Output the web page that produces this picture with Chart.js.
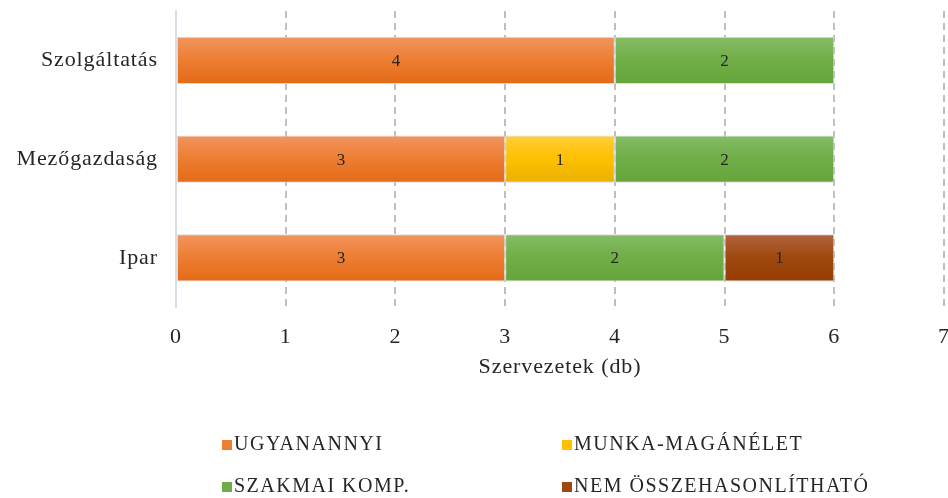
<!DOCTYPE html>
<html lang="hu">
<head>
<meta charset="utf-8">
<script src="https://cdn.jsdelivr.net/npm/chart.js@4.4.1/dist/chart.umd.min.js"></script>
<style>
  html, body { margin: 0; padding: 0; background: #ffffff; }
  #wrap { position: relative; width: 948px; height: 498px; }
  #chartBox { position: absolute; left: 0; top: 0; width: 948px; height: 380px; }
  #legend { position: absolute; left: 0; top: 0; width: 948px; height: 498px; pointer-events: none;
            font-family: "Liberation Serif", "Times New Roman", serif; font-size: 20px;
            letter-spacing: 1.5px; color: #262626; }
  .item { position: absolute; display: flex; align-items: center; white-space: nowrap; }
  .box { width: 10px; height: 10px; margin-right: 2px; margin-top: 3px; }
</style>
</head>
<body>
<div id="wrap">
  <div id="chartBox"><canvas id="c"></canvas></div>
  <div id="legend"></div>
</div>
<script>
// Sectors (top to bottom) and counts of organisations per answer
const categories = ["Szolgáltatás", "Mezőgazdaság", "Ipar"];
const seriesNames = ["UGYANANNYI", "MUNKA-MAGÁNÉLET", "SZAKMAI KOMP.", "NEM ÖSSZEHASONLÍTHATÓ"];
const ugyanannyi = [4, 3, 3];
const munkaMaganelet = [0, 1, 0];
const szakmaiKomp = [2, 2, 2];
const nemOsszehasonlithato = [0, 0, 1];
const xTicks = [0, 1, 2, 3, 4, 5, 6, 7];
const axisTitle = "Szervezetek (db)";

// Fill colours: light top, dark bottom of each bar
const palette = [
  { top: "#F2955F", bottom: "#E36A17", flat: "#ED7D31" },
  { top: "#FFCD3A", bottom: "#EBB000", flat: "#FFC000" },
  { top: "#86BD66", bottom: "#65A53A", flat: "#70AD47" },
  { top: "#B2643E", bottom: "#983C02", flat: "#9E480E" }
];

const SERIF = '"Liberation Serif", "Times New Roman", serif';
const AXIS_SPACING = "0.9px";

function barGradient(idx) {
  return function (context) {
    const chart = context.chart;
    const yScale = chart.scales && chart.scales.y;
    if (!chart.chartArea || !yScale || context.dataIndex === undefined) return palette[idx].flat;
    const cy = yScale.getPixelForValue(context.dataIndex);
    const half = (yScale.height / categories.length) * 0.48 / 2;
    const g = chart.ctx.createLinearGradient(0, cy - half, 0, cy + half);
    g.addColorStop(0, palette[idx].top);
    g.addColorStop(0.5, palette[idx].flat);
    g.addColorStop(1, palette[idx].bottom);
    return g;
  };
}

const seriesData = [ugyanannyi, munkaMaganelet, szakmaiKomp, nemOsszehasonlithato];
const datasets = seriesNames.map((name, i) => ({
  label: name,
  data: seriesData[i].map(v => (v === 0 ? null : v)),
  backgroundColor: barGradient(i),
  borderColor: "rgba(215,215,215,0.9)",
  borderWidth: 1,
  borderSkipped: false,
  categoryPercentage: 1,
  barPercentage: 0.48
}));

// Slightly wider letter spacing for the axis texts
const axisSpacing = {
  id: "axisSpacing",
  beforeLayout(chart) { chart.ctx.letterSpacing = AXIS_SPACING; },
  beforeDraw(chart) { chart.ctx.letterSpacing = AXIS_SPACING; },
  afterDraw(chart) { chart.ctx.letterSpacing = "0px"; }
};

// Value written in the middle of every segment
const segmentLabels = {
  id: "segmentLabels",
  afterDatasetsDraw(chart) {
    const ctx = chart.ctx;
    ctx.save();
    ctx.letterSpacing = "0px";
    ctx.font = "17px " + SERIF;
    ctx.fillStyle = "#262626";
    ctx.textAlign = "center";
    ctx.textBaseline = "middle";
    chart.data.datasets.forEach((ds, di) => {
      const meta = chart.getDatasetMeta(di);
      meta.data.forEach((bar, j) => {
        const v = ds.data[j];
        if (v === null || v === undefined) return;
        const p = bar.getProps(["x", "y", "base"], true);
        ctx.fillText(String(v), (p.x + p.base) / 2, p.y + 1);
      });
    });
    ctx.restore();
  }
};

new Chart(document.getElementById("c"), {
  type: "bar",
  data: { labels: categories, datasets },
  options: {
    indexAxis: "y",
    responsive: true,
    maintainAspectRatio: false,
    animation: false,
    layout: { padding: { left: 0, right: 4, top: 11, bottom: 0 } },
    plugins: { legend: { display: false }, tooltip: { enabled: false } },
    scales: {
      x: {
        stacked: true,
        min: 0, max: 7,
        afterBuildTicks(scale) { scale.ticks = xTicks.map(v => ({ value: v })); },
        afterFit(scale) { scale.paddingLeft = 0; scale.paddingRight = 0; },
        grid: {
          display: true,
          drawTicks: false,
          color: ctx => (ctx.tick && ctx.tick.value === 0 ? "rgba(0,0,0,0)" : "#BFBFBF"),
          lineWidth: 2
        },
        border: { display: false, dash: [7, 5] },
        ticks: { color: "#262626", font: { family: SERIF, size: 22 }, padding: 17 },
        title: { display: true, text: axisTitle, color: "#262626", font: { family: SERIF, size: 22 }, padding: { top: -14, bottom: 0 } }
      },
      y: {
        stacked: true,
        grid: { display: false, drawTicks: false },
        border: { display: true, color: "#D9DDE6", width: 2 },
        ticks: { color: "#262626", font: { family: SERIF, size: 22 }, padding: 18 },
        afterFit(scale) { scale.width = 176; scale.paddingTop = 0; scale.paddingBottom = 0; }
      }
    }
  },
  plugins: [axisSpacing, segmentLabels]
});

// Legend: two columns, two rows
const legendPos = [
  { x: 222, y: 443 }, { x: 562, y: 443 },
  { x: 222, y: 485 }, { x: 562, y: 485 }
];
const legendEl = document.getElementById("legend");
seriesNames.forEach((name, i) => {
  const item = document.createElement("div");
  item.className = "item";
  item.style.left = legendPos[i].x + "px";
  item.style.top = (legendPos[i].y - 12) + "px";
  item.style.height = "24px";
  const box = document.createElement("span");
  box.className = "box";
  box.style.background = palette[i].flat;
  const txt = document.createElement("span");
  txt.textContent = name;
  item.appendChild(box);
  item.appendChild(txt);
  legendEl.appendChild(item);
});
</script>
</body>
</html>
